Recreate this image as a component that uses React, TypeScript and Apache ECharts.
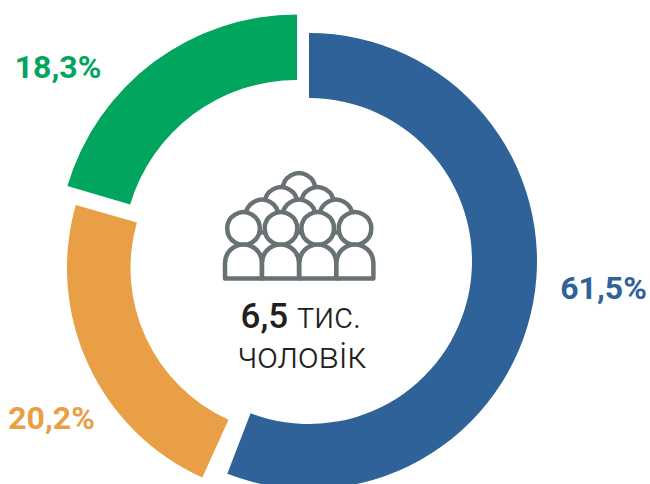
import React, { useEffect, useRef } from "react";
import * as echarts from "echarts";

const categories = ["blue", "orange", "green"];
const shareValues = [61.5, 20.2, 18.3];
const shareLabels = ["61,5%", "20,2%", "18,3%"];
const arcDegrees = [201, 81.6, 73.5];
const arcStarts = [90, -114.3, 163.5];
const colors = ["#2F6299", "#E89F45", "#02A55E"];
const centers = [[309, 261], [297, 268], [297, 254]];
const radii = [[163, 228], [166.5, 230], [174, 239.5]];
const totalBold = "6,5";
const totalUnit = " тис.";
const totalNoun = "чоловік";

const ARCH = "M0 34 L0 18.5 A18.5 18.5 0 0 1 37 18.5 L37 34 Z";
echarts.graphic.registerShape("arch", (echarts.graphic as any).extendPath(ARCH, {}));

const ICON = "#687173";
const disc = (cx: number, cy: number, z: number) => ({
  type: "circle", z, shape: { cx, cy, r: 16.3 }, silent: true,
  style: { fill: "#fff", stroke: ICON, lineWidth: 4.5 },
});
const arch = (x: number, z: number) => ({
  type: "arch", x, y: 244.5, z, silent: true,
  style: { fill: "#fff", stroke: ICON, lineWidth: 4.5, lineJoin: "round" },
});

export default function App() {
  const ref = useRef<HTMLDivElement>(null);
  useEffect(() => {
    const chart = echarts.init(ref.current!, undefined, { renderer: "svg" });
    chart.setOption({
      animation: false,
      series: categories.map((name, i) => ({
        type: "pie", name, silent: true,
        center: centers[i], radius: radii[i],
        startAngle: arcStarts[i], endAngle: arcStarts[i] - arcDegrees[i],
        clockwise: true, label: { show: false }, labelLine: { show: false },
        data: [{ name, value: shareValues[i], itemStyle: { color: colors[i] } }],
      })),
      graphic: [
        disc(299, 189.5, 10),
        disc(281, 203.5, 11), disc(317.5, 203.5, 11),
        disc(262, 216, 12), disc(299, 216, 12), disc(336, 216, 12),
        disc(243.5, 228.5, 13), disc(281, 228.5, 13), disc(317.7, 228.5, 13), disc(355, 228.5, 13),
        arch(225, 14), arch(262, 14), arch(299.3, 14), arch(336.4, 14),
        { type: "text", z: 20, silent: true, x: 301, y: 316, style: {
          text: `{b|${totalBold}}{l|${totalUnit}}`, align: "center", verticalAlign: "middle",
          rich: {
            b: { fontFamily: "Roboto", fontWeight: 500, fontSize: 35, lineHeight: 36, fill: "#231F20" },
            l: { fontFamily: "Roboto", fontWeight: 300, fontSize: 36, lineHeight: 36, fill: "#231F20" },
          } } },
        { type: "text", z: 20, silent: true, x: 302, y: 355.5, style: {
          text: totalNoun, align: "center", verticalAlign: "middle", lineHeight: 36,
          fontFamily: "Roboto", fontWeight: 300, fontSize: 36.5, fill: "#231F20" } },
        { type: "text", silent: true, x: 603.5, y: 288, style: {
          text: shareLabels[0], align: "center", verticalAlign: "middle",
          fontFamily: "Roboto", fontWeight: 700, fontSize: 32, fill: colors[0] } },
        { type: "text", silent: true, x: 51.5, y: 418, style: {
          text: shareLabels[1], align: "center", verticalAlign: "middle",
          fontFamily: "Roboto", fontWeight: 700, fontSize: 32, fill: colors[1] } },
        { type: "text", silent: true, x: 58, y: 67, style: {
          text: shareLabels[2], align: "center", verticalAlign: "middle",
          fontFamily: "Roboto", fontWeight: 700, fontSize: 32, fill: colors[2] } },
      ],
    });
    return () => chart.dispose();
  }, []);
  return <div ref={ref} style={{ position: "fixed", left: 0, top: 0, width: 650, height: 484, background: "#fff" }} />;
}
